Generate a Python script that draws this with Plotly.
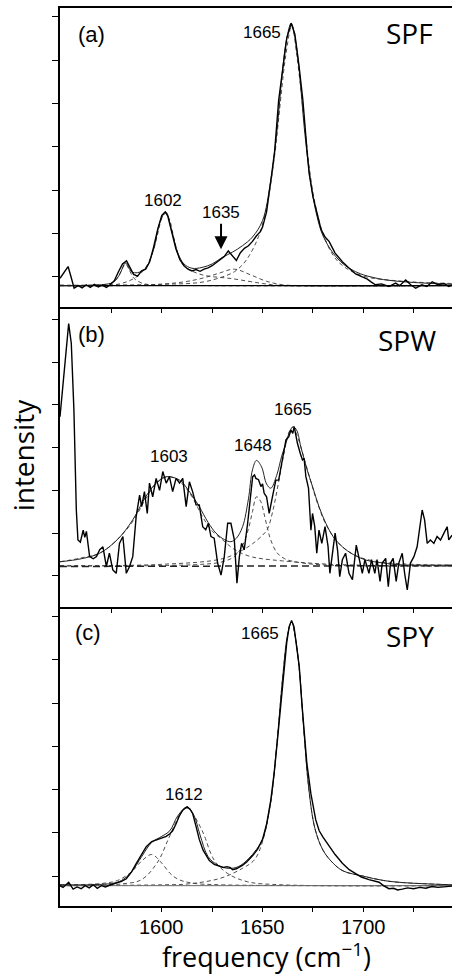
import plotly.graph_objects as go

# ---------------- axis ticks ----------------
x_tickvals = [1575, 1600, 1625, 1650, 1675, 1700, 1725]
x_ticktext = ["", "1600", "", "1650", "", "1700", ""]
y_tickvals = [0, 1, 2, 3, 4, 5, 6]

# ---------------- panel (a) SPF ----------------
a_meas_x = [1549.5, 1551.5, 1553.5, 1555.0, 1556.5, 1558.5, 1560.5, 1562.5, 1564.5, 1566.5, 1568.5, 1570.5,
            1572.5, 1574.5, 1576.5, 1578.5, 1580.5, 1582.5, 1584.0, 1586.0, 1588.0, 1590.0, 1592.0, 1594.0,
            1596.0, 1598.0, 1600.0, 1601.7, 1603.0, 1605.0, 1607.0, 1609.0, 1611.0, 1613.0, 1615.0, 1617.0,
            1619.0, 1621.0, 1623.0, 1625.0, 1627.0, 1629.0, 1631.0, 1633.0, 1635.0, 1637.0, 1639.0, 1641.0,
            1643.0, 1645.0, 1647.0, 1649.0, 1650.0, 1652.0, 1654.6, 1656.0, 1658.0, 1660.0, 1662.0, 1664.2,
            1666.0, 1668.0, 1670.0, 1672.0, 1673.1, 1675.0, 1677.0, 1679.0, 1681.0, 1683.0, 1686.0, 1689.6,
            1693.0, 1696.2, 1699.5, 1702.0, 1704.0, 1706.0, 1709.0, 1712.7, 1716.0, 1718.0, 1721.0, 1723.5,
            1726.0, 1729.0, 1731.5, 1734.2, 1737.0, 1740.0, 1742.4, 1744.0]
a_meas_y = [-0.03, 0.10, 0.24, 0.00, -0.26, -0.20, -0.25, -0.18, -0.24, -0.17, -0.23, -0.19,
            -0.24, -0.18, -0.08, 0.12, 0.30, 0.37, 0.25, 0.06, 0.02, 0.14, 0.18, 0.35,
            0.70, 1.10, 1.42, 1.50, 1.40, 1.00, 0.65, 0.40, 0.26, 0.18, 0.14, 0.17,
            0.13, 0.18, 0.21, 0.26, 0.33, 0.42, 0.47, 0.60, 0.50, 0.38, 0.56, 0.66,
            0.72, 0.82, 0.95, 1.05, 1.15, 1.50, 2.39, 2.90, 4.08, 4.85, 5.50, 5.85,
            5.60, 4.90, 4.08, 2.95, 2.39, 1.85, 1.45, 1.10, 0.92, 0.82, 0.55, 0.35,
            0.20, 0.07, 0.00, -0.05, -0.12, -0.18, -0.16, -0.22, -0.14, -0.20, -0.07, -0.18,
            -0.26, -0.18, -0.22, -0.11, -0.18, -0.15, -0.22, -0.19]

a_fit_x = [1549.5, 1570, 1576, 1579, 1582, 1585, 1588, 1592, 1596, 1599, 1602, 1605, 1608, 1611, 1615,
           1620, 1625, 1630, 1635, 1640, 1645, 1650, 1654, 1657, 1660, 1662, 1664.2, 1666, 1668, 1671,
           1674, 1677, 1680, 1685, 1690, 1695, 1700, 1710, 1720, 1730, 1744]
a_fit_y = [-0.20, -0.18, -0.12, 0.05, 0.32, 0.12, 0.10, 0.20, 0.65, 1.25, 1.50, 1.05, 0.55, 0.30, 0.20,
           0.22, 0.30, 0.45, 0.57, 0.72, 0.92, 1.30, 2.20, 3.30, 4.80, 5.50, 5.85, 5.55, 4.85, 3.30,
           2.15, 1.40, 0.95, 0.55, 0.30, 0.15, 0.05, -0.06, -0.11, -0.14, -0.17]

a_c1582_x = [1549.5, 1570, 1575, 1578, 1580, 1582, 1584, 1586, 1590, 1595, 1620, 1744]
a_c1582_y = [-0.20, -0.18, -0.14, -0.02, 0.15, 0.30, 0.15, -0.02, -0.14, -0.18, -0.20, -0.20]
a_c1602_x = [1549.5, 1580, 1590, 1595, 1598, 1600, 1602, 1604, 1606, 1609, 1612, 1620, 1635, 1650, 1660, 1744]
a_c1602_y = [-0.19, -0.15, 0.10, 0.50, 1.00, 1.35, 1.47, 1.30, 0.90, 0.40, 0.22, 0.05, -0.04, -0.15, -0.20, -0.20]
a_c1635_x = [1549.5, 1590, 1610, 1620, 1628, 1636, 1644, 1652, 1660, 1670, 1744]
a_c1635_y = [-0.20, -0.19, -0.12, -0.03, 0.08, 0.18, 0.05, -0.10, -0.18, -0.20, -0.20]
a_c1665_x = [1549.5, 1600, 1620, 1630, 1636, 1640, 1643.5, 1648, 1652, 1656, 1659, 1661.5, 1664.5, 1667,
             1670, 1673, 1676, 1680, 1685, 1690, 1700, 1720, 1744]
a_c1665_y = [-0.19, -0.17, -0.12, 0.00, 0.12, 0.28, 0.50, 0.93, 1.60, 2.80, 4.10, 5.10, 5.80, 5.10,
             3.90, 2.60, 1.70, 1.00, 0.50, 0.25, 0.02, -0.10, -0.15]
a_base_x = [1549.5, 1744]
a_base_y = [-0.20, -0.20]

# ---------------- panel (b) SPW ----------------
b_meas_x = [1549.5, 1551.8, 1553.8, 1555.1, 1556.4, 1557.6, 1558.4, 1559.6, 1561.0, 1561.8, 1562.6, 1564.2,
            1566.0, 1567.6, 1569.2, 1570.8, 1572.5, 1574.0, 1575.7, 1577.4, 1579.0, 1580.7, 1582.4, 1584.0,
            1585.6, 1587.3, 1589.0, 1590.0, 1591.4, 1592.8, 1593.9, 1595.5, 1597.2, 1598.9, 1600.5, 1602.2,
            1603.8, 1605.4, 1607.1, 1608.8, 1610.4, 1612.1, 1613.7, 1615.3, 1617.0, 1618.6, 1620.3, 1621.8,
            1623.1, 1624.4, 1626.0, 1627.7, 1629.4, 1631.0, 1632.7, 1634.3, 1636.0, 1637.3, 1638.5, 1639.6,
            1640.9, 1642.6, 1644.2, 1645.1, 1646.0, 1646.7, 1648.0, 1649.2, 1650.0, 1650.8, 1652.0, 1653.3,
            1654.9, 1656.6, 1658.0, 1659.1, 1660.5, 1661.6, 1663.0, 1664.1, 1665.0, 1665.7, 1666.5, 1667.3,
            1668.8, 1669.8, 1670.6, 1671.5, 1672.8, 1674.0, 1674.8, 1675.9, 1676.9, 1678.0, 1679.4, 1681.0,
            1682.5, 1683.4, 1684.7, 1686.0, 1687.2, 1688.3, 1689.6, 1691.2, 1692.9, 1694.6, 1696.5, 1697.9,
            1699.5, 1700.8, 1702.8, 1704.1, 1705.7, 1706.8, 1708.3, 1709.4, 1711.1, 1712.4, 1713.5, 1714.8,
            1716.3, 1717.6, 1719.3, 1720.5, 1721.8, 1723.4, 1725.1, 1726.7, 1727.9, 1729.2, 1730.4, 1731.7,
            1733.3, 1735.0, 1736.6, 1738.3, 1740.0, 1741.6, 1742.4, 1744.0]
b_meas_y = [3.72, 4.97, 5.90, 5.44, 3.88, 1.54, 0.84, 0.79, 1.07, 0.90, 1.04, 0.45,
            0.40, 0.45, 0.61, 0.68, 0.22, 0.53, 0.14, 0.06, 0.76, 0.92, 0.06, 0.22,
            0.45, 1.39, 1.89, 1.62, 1.97, 1.46, 2.17, 1.85, 2.28, 2.00, 2.44, 2.17,
            2.32, 1.97, 2.28, 2.17, 2.28, 1.62, 2.20, 1.97, 1.66, 1.66, 1.15, 1.08,
            1.23, 0.92, 0.88, 0.30, 0.02, 0.45, 1.23, 1.23, 0.84, -0.17, 0.45, 0.76,
            0.61, 1.23, 1.85, 2.32, 2.36, 2.28, 2.25, 2.09, 2.15, 1.93, 1.85, 1.46,
            1.85, 2.24, 2.24, 2.55, 2.95, 3.18, 3.25, 3.41, 3.33, 3.49, 3.30, 3.10,
            2.85, 2.71, 2.75, 2.32, 2.05, 1.07, 1.46, 1.15, 0.53, 1.07, 0.76, 1.15,
            0.69, 0.06, 0.53, 1.00, 0.61, -0.02, 0.38, 0.53, 0.06, -0.09, 0.72, 0.41,
            0.06, 0.38, 0.06, 0.38, 0.06, 0.38, -0.13, 0.30, 0.41, -0.25, 0.30, 0.41,
            -0.13, 0.30, 0.53, 0.06, -0.33, 0.30, 0.45, 0.68, 1.15, 1.54, 1.31, 0.76,
            0.84, 0.76, 0.92, 0.84, 1.00, 1.15, 0.84, 0.95]

b_fit_x = [1549.5, 1560, 1569.2, 1578, 1585.6, 1592, 1597.2, 1602.2, 1608.8, 1614, 1618.6, 1623, 1626.9,
           1631, 1634.3, 1637, 1640.1, 1643, 1645, 1647, 1649.5, 1652, 1654.1, 1657, 1659.5, 1661.6, 1663.5,
           1665.2, 1667, 1669, 1672, 1674.8, 1678, 1681.4, 1685, 1689.6, 1695, 1701.2, 1710, 1717.7, 1730, 1744]
b_fit_y = [0.33, 0.40, 0.53, 0.85, 1.31, 1.85, 2.17, 2.32, 2.24, 1.95, 1.62, 1.25, 1.00,
           0.85, 0.80, 0.88, 1.15, 1.80, 2.48, 2.70, 2.55, 2.15, 2.05, 2.35, 2.80, 3.10, 3.38,
           3.49, 3.40, 3.02, 2.50, 2.09, 1.62, 1.23, 0.92, 0.68, 0.50, 0.37, 0.30, 0.26, 0.25, 0.25]

b_c1603_x = [1549.5, 1560, 1570, 1580, 1586, 1592, 1597, 1603, 1609, 1615, 1620, 1625, 1630, 1635, 1640,
             1645, 1650, 1660, 1680, 1700, 1744]
b_c1603_y = [0.33, 0.42, 0.55, 0.95, 1.30, 1.80, 2.15, 2.32, 2.20, 1.85, 1.40, 1.05, 0.85, 0.65, 0.52,
             0.44, 0.40, 0.35, 0.28, 0.25, 0.23]
b_c1648_x = [1549.5, 1620, 1630, 1636, 1640, 1643, 1645, 1647, 1649, 1651, 1652.5, 1654, 1657, 1661, 1670,
             1690, 1744]
b_c1648_y = [0.23, 0.27, 0.33, 0.45, 0.70, 1.10, 1.50, 1.85, 1.75, 1.40, 1.10, 0.85, 0.55, 0.40, 0.30,
             0.24, 0.23]
b_c1665_x = [1549.5, 1600, 1630, 1640, 1645, 1650, 1652.5, 1655, 1658, 1661, 1663, 1665, 1667, 1670, 1674,
             1678, 1682, 1688, 1695, 1705, 1720, 1744]
b_c1665_y = [0.24, 0.27, 0.40, 0.60, 0.75, 0.95, 1.10, 1.50, 2.20, 2.95, 3.35, 3.47, 3.30, 2.85, 2.20,
             1.60, 1.15, 0.75, 0.50, 0.35, 0.28, 0.25]
b_base_x = [1549.5, 1744]
b_base_y = [0.22, 0.24]

# ---------------- panel (c) SPY ----------------
c_meas_x = [1549.5, 1551.0, 1553.8, 1556.0, 1558.0, 1560.0, 1562.0, 1564.0, 1566.0, 1568.0, 1570.0, 1572.0,
            1574.0, 1576.0, 1578.0, 1580.0, 1582.4, 1585.0, 1587.3, 1590.0, 1592.3, 1595.0, 1597.2, 1600.0,
            1602.2, 1604.0, 1605.4, 1607.0, 1608.8, 1610.5, 1612.6, 1614.0, 1615.3, 1617.0, 1618.6, 1620.5,
            1623.6, 1626.0, 1628.6, 1630.5, 1632.4, 1634.0, 1635.1, 1637.0, 1640.0, 1642.0, 1645.0, 1647.5,
            1650.0, 1652.0, 1654.1, 1655.8, 1657.4, 1659.0, 1660.7, 1662.0, 1663.2, 1664.4, 1665.6, 1667.0,
            1668.2, 1669.5, 1670.6, 1672.0, 1674.0, 1676.4, 1678.1, 1680.0, 1683.0, 1686.0, 1689.6, 1693.0,
            1696.2, 1699.0, 1702.8, 1705.0, 1707.8, 1710.0, 1712.7, 1715.0, 1717.0, 1719.3, 1722.0, 1725.0,
            1728.0, 1731.0, 1734.0, 1737.0, 1740.0, 1744.0]
c_meas_y = [-0.22, -0.26, -0.14, -0.30, -0.25, -0.29, -0.22, -0.27, -0.20, -0.28, -0.22, -0.25,
            -0.21, -0.18, -0.16, -0.12, -0.06, 0.10, 0.29, 0.50, 0.68, 0.80, 0.84, 0.88,
            0.92, 0.98, 1.05, 1.20, 1.40, 1.53, 1.60, 1.55, 1.45, 1.15, 0.85, 0.60,
            0.36, 0.27, 0.22, 0.20, 0.22, 0.20, 0.15, 0.17, 0.25, 0.32, 0.47, 0.62,
            0.85, 1.20, 1.76, 2.40, 3.15, 4.00, 4.85, 5.40, 5.77, 5.91, 5.77, 5.30,
            4.85, 4.00, 3.30, 2.60, 1.90, 1.30, 1.05, 0.90, 0.70, 0.50, 0.30, 0.15,
            0.06, -0.02, -0.08, -0.10, -0.14, -0.22, -0.29, -0.28, -0.32, -0.30, -0.27, -0.29,
            -0.26, -0.28, -0.24, -0.26, -0.24, -0.23]

c_fit_x = [1549.5, 1575, 1580, 1585, 1590, 1595, 1600, 1604, 1608, 1612.6, 1616, 1619, 1623, 1628, 1633,
           1638, 1643, 1647, 1650, 1654, 1657, 1660, 1662.5, 1664.4, 1666, 1668.2, 1670.6, 1673, 1676,
           1680, 1685, 1690, 1700, 1710, 1720, 1744]
c_fit_y = [-0.20, -0.17, -0.10, 0.10, 0.45, 0.78, 0.92, 1.05, 1.40, 1.60, 1.40, 0.95, 0.45, 0.25, 0.18,
           0.22, 0.40, 0.62, 0.85, 1.70, 3.00, 4.60, 5.60, 5.88, 5.60, 4.80, 3.30, 2.00, 1.10,
           0.60, 0.30, 0.12, 0.00, -0.10, -0.15, -0.20]

c_c1595_x = [1549.5, 1570, 1578, 1585, 1590, 1595, 1600, 1604, 1608, 1615, 1630, 1744]
c_c1595_y = [-0.20, -0.17, -0.10, 0.10, 0.35, 0.50, 0.30, 0.07, -0.07, -0.16, -0.20, -0.22]
c_c1612_x = [1549.5, 1580, 1590, 1598, 1603, 1607, 1610, 1612.9, 1616, 1619, 1621, 1626, 1632.7, 1642.6,
             1660, 1744]
c_c1612_y = [-0.22, -0.18, -0.08, 0.33, 0.83, 1.25, 1.50, 1.57, 1.40, 1.15, 0.95, 0.37, 0.06, -0.13,
             -0.20, -0.22]
c_c1665_x = [1549.5, 1600, 1613, 1629, 1640, 1646, 1650, 1654, 1657, 1660, 1662.5, 1664.4, 1666, 1668.2,
             1670.6, 1673, 1676, 1680, 1685, 1690, 1700, 1710, 1720, 1744]
c_c1665_y = [-0.22, -0.20, -0.18, -0.05, 0.18, 0.38, 0.80, 1.70, 3.00, 4.60, 5.60, 5.88, 5.60, 4.80,
             3.30, 2.00, 1.10, 0.60, 0.30, 0.12, 0.00, -0.10, -0.15, -0.20]
c_base_x = [1549.5, 1744]
c_base_y = [-0.22, -0.22]

# ---------------- figure ----------------
fig = go.Figure()
DASH_COL = "#3a3a3a"


def add_panel(ax, comps, base, fit, meas, base_style):
    xa = "x" if ax == 1 else f"x{ax}"
    ya = "y" if ax == 1 else f"y{ax}"
    for cx, cy in comps:
        fig.add_trace(go.Scatter(x=cx, y=cy, mode="lines", line_shape="spline",
                                 line=dict(color=DASH_COL, width=0.9, dash="4px,3px"),
                                 xaxis=xa, yaxis=ya, hoverinfo="skip"))
    fig.add_trace(go.Scatter(x=base[0], y=base[1], mode="lines",
                             line=dict(color=base_style[0], width=base_style[1], dash=base_style[2]),
                             xaxis=xa, yaxis=ya, hoverinfo="skip"))
    fig.add_trace(go.Scatter(x=fit[0], y=fit[1], mode="lines", line_shape="spline",
                             line=dict(color="#222222", width=1.0),
                             xaxis=xa, yaxis=ya, hoverinfo="skip"))
    fig.add_trace(go.Scatter(x=meas[0], y=meas[1], mode="lines",
                             line=dict(color="#000000", width=1.4),
                             xaxis=xa, yaxis=ya, hoverinfo="skip"))


add_panel(1, [(a_c1582_x, a_c1582_y), (a_c1602_x, a_c1602_y), (a_c1635_x, a_c1635_y), (a_c1665_x, a_c1665_y)],
          (a_base_x, a_base_y), (a_fit_x, a_fit_y), (a_meas_x, a_meas_y), ("#000000", 1.3, "solid"))
add_panel(2, [(b_c1603_x, b_c1603_y), (b_c1648_x, b_c1648_y), (b_c1665_x, b_c1665_y)],
          (b_base_x, b_base_y), (b_fit_x, b_fit_y), (b_meas_x, b_meas_y), ("#222222", 1.5, "7px,4px"))
add_panel(3, [(c_c1595_x, c_c1595_y), (c_c1612_x, c_c1612_y), (c_c1665_x, c_c1665_y)],
          (c_base_x, c_base_y), (c_fit_x, c_fit_y), (c_meas_x, c_meas_y), ("#666666", 1.0, "solid"))

X_RANGE = [1549.5, 1744]
y_ranges = {1: [-0.70, 6.20], 2: [-0.72, 6.28], 3: [-0.69, 6.23]}
domains = {1: [2 / 3, 1.0], 2: [1 / 3, 2 / 3], 3: [0.0, 1 / 3]}

layout = dict(width=452, height=976, margin=dict(l=60, r=0, t=8, b=70),
              plot_bgcolor="white", paper_bgcolor="white", showlegend=False)
for i in (1, 2, 3):
    xk = "xaxis" if i == 1 else f"xaxis{i}"
    yk = "yaxis" if i == 1 else f"yaxis{i}"
    layout[xk] = dict(range=X_RANGE, domain=[0, 1], anchor="y" if i == 1 else f"y{i}",
                      showline=True, linecolor="black", linewidth=1.8, mirror=(i == 1),
                      ticks="outside", ticklen=4, tickwidth=1.3, tickcolor="black",
                      tickvals=x_tickvals, showticklabels=False,
                      showgrid=False, zeroline=False)
    layout[yk] = dict(range=y_ranges[i], domain=domains[i], anchor="x" if i == 1 else f"x{i}",
                      showline=True, linecolor="black", linewidth=1.8,
                      ticks="outside", ticklen=6, tickwidth=1.3, tickcolor="black",
                      tickvals=y_tickvals, showticklabels=False, showgrid=False, zeroline=False)
fig.update_layout(**layout)

LAB = dict(family="Liberation Sans, Arial", size=17, color="black")
PAN = dict(family="Liberation Sans, Arial", size=22, color="black")
SAMP = dict(family="Open Sans", size=28, color="black")
TITLEF = dict(family="Open Sans", size=27, color="black")
TICKF = dict(family="Liberation Sans, Arial", size=20, color="black")
ann = [
    dict(x=1565.0, y=5.58, xref="x", yref="y", text="(a)", font=PAN),
    dict(x=1723.0, y=5.62, xref="x", yref="y", text="SPF", font=SAMP),
    dict(x=1649.5, y=5.64, xref="x", yref="y", text="1665", font=LAB),
    dict(x=1600.8, y=1.77, xref="x", yref="y", text="1602", font=LAB),
    dict(x=1629.4, y=1.49, xref="x", yref="y", text="1635", font=LAB),
    dict(x=1629.4, y=0.64, xref="x", yref="y", text="", showarrow=True, ax=0, ay=-27,
         arrowhead=2, arrowsize=1.3, arrowwidth=2, arrowcolor="black"),
    dict(x=1565.2, y=5.65, xref="x2", yref="y2", text="(b)", font=PAN),
    dict(x=1721.8, y=5.52, xref="x2", yref="y2", text="SPW", font=SAMP),
    dict(x=1603.5, y=2.79, xref="x2", yref="y2", text="1603", font=LAB),
    dict(x=1645.4, y=3.06, xref="x2", yref="y2", text="1648", font=LAB),
    dict(x=1664.9, y=3.88, xref="x2", yref="y2", text="1665", font=LAB),
    dict(x=1563.5, y=5.63, xref="x3", yref="y3", text="(c)", font=PAN),
    dict(x=1723.0, y=5.56, xref="x3", yref="y3", text="SPY", font=SAMP),
    dict(x=1648.9, y=5.62, xref="x3", yref="y3", text="1665", font=LAB),
    dict(x=1611.2, y=1.89, xref="x3", yref="y3", text="1612", font=LAB),
    dict(x=-0.094, y=0.502, xref="paper", yref="paper", text="intensity", textangle=-90,
         font=SAMP, xanchor="center", yanchor="middle"),
    dict(x=0.526, y=-0.055, xref="paper", yref="paper", text="frequency (cm<sup>\u22121</sup>)",
         font=TITLEF, xanchor="center", yanchor="middle"),
]
# bottom tick labels placed on the x3 scale
for tv, tt in zip(x_tickvals, x_ticktext):
    if tt:
        ann.append(dict(x=tv, y=-0.0234, xref="x3", yref="paper", text=tt, font=TICKF,
                        xanchor="center", yanchor="middle"))
for a in ann:
    a.setdefault("showarrow", False)
fig.update_layout(annotations=ann)

fig.write_html("out.html")
